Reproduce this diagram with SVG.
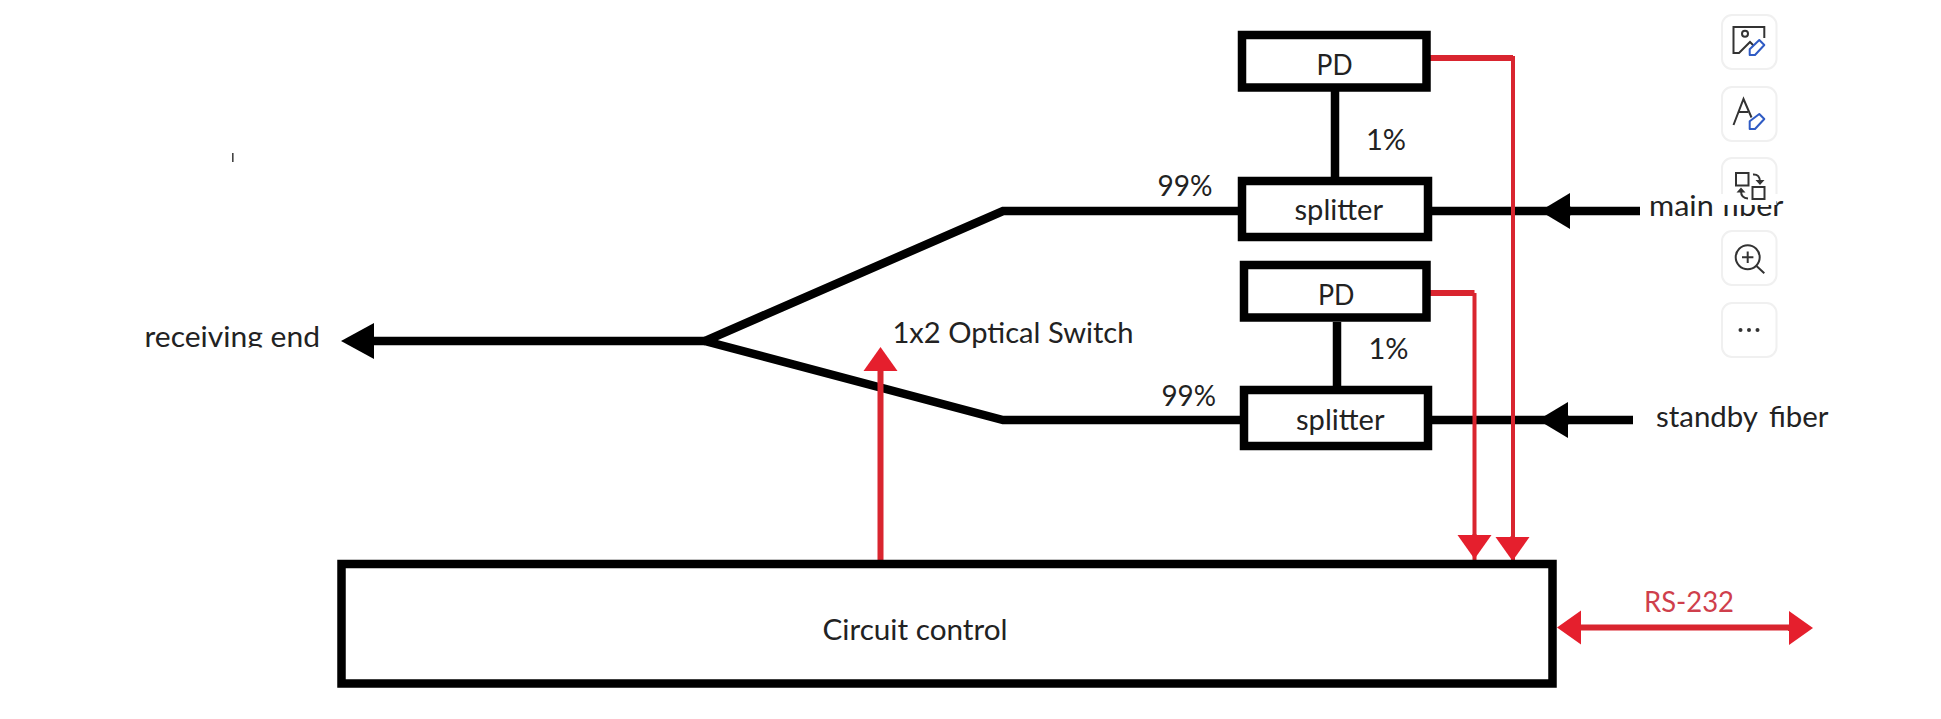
<svg xmlns="http://www.w3.org/2000/svg" width="1941" height="719" viewBox="0 0 1941 719">
<style>
text{font-family:Lato,"Noto Sans","Liberation Sans",sans-serif;font-size:28px;fill:#222}
.box{fill:#fff;stroke:#000;stroke-width:8.5}
.k{fill:none;stroke:#000;stroke-width:8.5}
.r{fill:none;stroke:#d9252f;stroke-width:4}
.rw{fill:none;stroke:#d9252f;stroke-width:6}
.card{fill:#fff;stroke:#f0f0f0;stroke-width:2}
.ic{fill:none;stroke:#333;stroke-width:2}
.pen{fill:#fff;stroke:#2f5bc4;stroke-width:2;stroke-linejoin:round}
</style>
<defs>
<marker id="headK" markerUnits="userSpaceOnUse" markerWidth="32" markerHeight="38" refX="1" refY="19" orient="auto" overflow="visible"><path d="M1,1 L31,19 L1,37Z" fill="#000"/></marker>
<marker id="headKL" markerUnits="userSpaceOnUse" markerWidth="35" markerHeight="38" refX="1" refY="19" orient="auto" overflow="visible"><path d="M1,1 L34,19 L1,37Z" fill="#000"/></marker>
<marker id="headR" markerUnits="userSpaceOnUse" markerWidth="26" markerHeight="36" refX="1" refY="18" orient="auto" overflow="visible"><path d="M1,1 L25,18 L1,35Z" fill="#e51f2d"/></marker>
<clipPath id="cut"><rect x="130" y="315" width="200" height="32.5"/></clipPath>
</defs>
<rect width="1941" height="719" fill="#fff"/>
<rect id="tick" x="232" y="153" width="1.6" height="9" fill="#444"/>
<g id="connectors">
<path class="k" d="M1640 211H1432"/>
<path class="k" d="M1633 420H1430"/>
<path class="k" d="M1238 211H1003L705 341L1003 420H1240"/>
<path class="k" d="M705 341H375"/>
<path class="k" d="M1335 91V177"/>
<path class="k" d="M1337 322V386"/>
<path d="M1571 211H1570" class="k" marker-end="url(#headK)"/>
<path d="M1569 420H1568" class="k" marker-end="url(#headK)"/>
<path d="M375 341H374" class="k" marker-end="url(#headKL)"/>
<path class="r" d="M1430 58H1513V560"/>
<path class="rw" d="M1430 58H1513"/>
<path class="r" d="M1474.500 293V560"/>
<path class="rw" d="M1430 293H1474.500"/>
<path d="M1474.500 534V535" class="r" marker-end="url(#headR)"/>
<path d="M1512.500 536V537" class="r" marker-end="url(#headR)"/>
<path d="M880.500 560V371" class="rw" marker-end="url(#headR)"/>
<path d="M1582 627.500H1789" class="rw"/>
<path d="M1582 627.500H1581" class="rw" marker-end="url(#headR)"/>
<path d="M1788 628H1789" class="rw" marker-end="url(#headR)"/>
</g>
<g id="pd1"><rect class="box" x="1242" y="35" width="184.500" height="52.500"/><text x="1316.500" y="75" textLength="36" lengthAdjust="spacingAndGlyphs">PD</text></g>
<text id="pct1" x="1366" y="150" textLength="40" lengthAdjust="spacingAndGlyphs">1%</text>
<g id="splitter1"><rect class="box" x="1242" y="181" width="186" height="56"/><text x="1294.500" y="220" textLength="88.500" lengthAdjust="spacingAndGlyphs">splitter</text></g>
<text id="pct99a" x="1157.500" y="196" textLength="55" lengthAdjust="spacingAndGlyphs">99%</text>
<g id="pd2"><rect class="box" x="1244" y="265" width="182.500" height="52.500"/><text x="1318" y="305" textLength="36.500" lengthAdjust="spacingAndGlyphs">PD</text></g>
<text id="pct2" x="1368.500" y="359" textLength="40" lengthAdjust="spacingAndGlyphs">1%</text>
<g id="splitter2"><rect class="box" x="1244" y="390" width="184" height="56"/><text x="1296" y="430" textLength="88.500" lengthAdjust="spacingAndGlyphs">splitter</text></g>
<text id="pct99b" x="1161.500" y="406" textLength="54.500" lengthAdjust="spacingAndGlyphs">99%</text>
<text id="switch" x="892.500" y="343" textLength="241" lengthAdjust="spacingAndGlyphs">1x2 Optical Switch</text>
<text id="receiving" x="144.500" y="347" textLength="175.500" lengthAdjust="spacingAndGlyphs" clip-path="url(#cut)">receiving end</text>
<text id="main" x="1649" y="216" textLength="134.500" lengthAdjust="spacingAndGlyphs">main fiber</text>
<text id="standby" x="1656" y="427" textLength="172.500" lengthAdjust="spacingAndGlyphs" style="word-spacing:4px">standby fiber</text>
<g id="control"><rect class="box" x="341.500" y="564" width="1211" height="119.500"/><text x="822.500" y="640" textLength="185" lengthAdjust="spacingAndGlyphs">Circuit control</text></g>
<text id="rs232" x="1644" y="612" textLength="90" lengthAdjust="spacingAndGlyphs" style="fill:#cf3f4c">RS-232</text>
<g id="toolbar">
<g id="tool-image"><rect class="card" x="1722" y="15" width="54.500" height="54" rx="10"/>
<path class="ic" d="M1764.300 38V27H1733.500V53H1739L1750 42L1754 46"/><circle class="ic" cx="1745" cy="33.700" r="3"/>
<path class="pen" d="M1749.700 49.300L1759.300 40L1764.300 45L1755 55H1749.700Z"/></g>
<g id="tool-text"><rect class="card" x="1722" y="87" width="54.500" height="54" rx="10"/>
<path class="ic" d="M1733.500 125L1743.500 99L1751.500 117.500M1738 112H1748"/>
<path class="pen" d="M1749.700 121.300L1759.300 114L1764.300 119L1755 129H1749.700Z"/></g>
<g id="tool-swap"><path d="M1722 205V168a10 10 0 0 1 10-10H1766.500a10 10 0 0 1 10 10V205Z" fill="#fff"/>
<path d="M1722 194V168a10 10 0 0 1 10-10H1766.500a10 10 0 0 1 10 10V194" fill="none" stroke="#f0f0f0" stroke-width="2"/>
<rect class="ic" x="1736" y="173" width="12.500" height="12.500"/><rect class="ic" x="1752.500" y="187" width="12" height="12"/>
<path class="ic" d="M1753 174.500Q1760 174 1760 182M1748 198.500Q1741 198 1741 191"/>
<path d="M1755.500 180H1764.500L1760 185ZM1736.500 192.500H1745.500L1741 187.500Z" fill="#333"/></g>
<g id="tool-zoom"><rect class="card" x="1722" y="231" width="54.500" height="54" rx="10"/>
<circle class="ic" cx="1747.700" cy="257.300" r="12"/><path class="ic" d="M1756.500 266L1764.300 273.300M1742 257.300H1753.400M1747.700 251.600V263"/></g>
<g id="tool-more"><rect class="card" x="1722" y="303" width="54.500" height="54" rx="10"/>
<circle cx="1740.500" cy="330" r="2" fill="#333"/><circle cx="1749" cy="330" r="2" fill="#333"/><circle cx="1757.500" cy="330" r="2" fill="#333"/></g>
</g>
</svg>
